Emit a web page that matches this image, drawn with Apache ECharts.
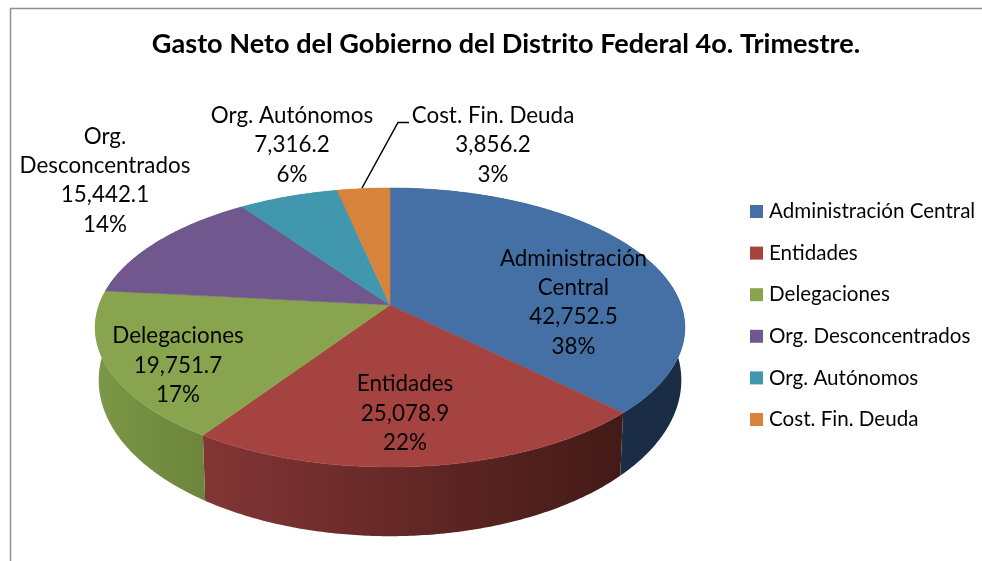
<!DOCTYPE html>
<html>
<head>
<meta charset="utf-8">
<style>html,body{margin:0;padding:0;background:#fff}#c{width:982px;height:561px}</style>
<script src="https://cdn.jsdelivr.net/npm/echarts@6/dist/echarts.min.js"></script>
</head>
<body>
<div id="c"></div>
<script>
const titleText = 'Gasto Neto del Gobierno del Distrito Federal 4o. Trimestre.';
const categories = ['Administración Central','Entidades','Delegaciones','Org. Desconcentrados','Org. Autónomos','Cost. Fin. Deuda'];
const values = [42752.5,25078.9,19751.7,15442.1,7316.2,3856.2];
const shareLabels = ['38%','22%','17%','14%','6%','3%'];
const wrappedNames = ['Administración\nCentral','Entidades','Delegaciones','Org.\nDesconcentrados','Org. Autónomos','Cost. Fin. Deuda'];

// appearance, kept apart from the data
const colors = ['#4470a6','#a54341','#89a44e','#70588e','#4197ae','#d8833c'];
const sideColors = [['#1c304a','#1a2c45'],['#833535','#421a17'],['#7c9747','#6b853a'],['#5a4672','#5a4672'],['#347a8c','#347a8c'],['#ad6930','#ad6930']];
const labelCenters = [[573.5,302.5],[405,413.5],[178,365.5],[105,180.5],[292,145],[493,145]];
const FONT = 'Lato, Carlito, "Noto Sans", sans-serif';

// projected disc: a circle seen in perspective
const cx = 390, apexY = 305, ya = 86.7, persp = -0.1613, xr = 291, bottomScale = 0.988;
const total = values.reduce((a, b) => a + b, 0);
function topPoint(t) {
  const u = Math.sin(t), v = -Math.cos(t), w = 1 + persp * v;
  return [cx + xr * u / w, (apexY + ya * v) / w];
}
function bottomPoint(t) {
  const u = Math.sin(t), v = -Math.cos(t), w = 1 + persp * v;
  const depth = 50 + 8 * Math.max(0, v);
  return [cx + bottomScale * xr * u / w, (apexY + ya * v) / w + depth / w];
}
function rim(fn, a, b) {
  const n = Math.max(2, Math.ceil((b - a) / 0.01)), pts = [];
  for (let i = 0; i <= n; i++) pts.push(fn(a + (b - a) * i / n));
  return pts;
}
function sliceRender(params, api) {
  const i = params.seriesIndex;
  let before = 0;
  for (let k = 0; k < i; k++) before += values[k];
  const a = before / total * Math.PI * 2;
  const b = a + api.value(0) / total * Math.PI * 2;
  const top = rim(topPoint, a, b);
  const bottom = rim(bottomPoint, a, b).reverse();
  const children = [
    { type: 'polygon', z2: 1, shape: { points: top.concat(bottom) },
      style: { fill: new echarts.graphic.LinearGradient(0, 0, 1, 0, [
        { offset: 0, color: sideColors[i][0] }, { offset: 1, color: sideColors[i][1] }]) } },
    { type: 'polygon', z2: 5, shape: { points: [[cx, apexY]].concat(top) },
      style: { fill: colors[i], stroke: colors[i], lineWidth: 0.5 } },
    { type: 'text', z2: 10, x: labelCenters[i][0], y: labelCenters[i][1],
      style: { text: wrappedNames[i] + '\n' + api.value(0).toLocaleString('en-US', { minimumFractionDigits: 1 }) + '\n' + shareLabels[i],
        fill: '#050505', font: '22.4px ' + FONT, align: 'center', verticalAlign: 'middle', lineHeight: 29.3 } }
  ];
  if (i === 5) {
    children.push({ type: 'polyline', z2: 10, shape: { points: [[362, 188], [398, 122.5], [409, 122.5]] },
      style: { stroke: '#000', lineWidth: 1.5, fill: null } });
  }
  return { type: 'group', children };
}
const chart = echarts.init(document.getElementById('c'), null, { renderer: 'canvas' });
chart.setOption({
  animation: false,
  backgroundColor: '#fff',
  title: { text: titleText, left: 501, top: 26, textAlign: 'center',
    textStyle: { fontFamily: FONT, fontWeight: 'bold', fontSize: 27.1, color: '#000' } },
  legend: {
    orient: 'vertical', left: 745, top: 196, itemWidth: 13, itemHeight: 13, itemGap: 20.6, icon: 'rect',
    data: categories, selectedMode: false,
    textStyle: { fontFamily: FONT, fontSize: 20.6, color: '#050505', padding: [0, 0, 0, 1] }
  },
  graphic: [{ type: 'polyline', silent: true, z: 0,
    shape: { points: [[10.5, 561], [10.5, 8.5], [982, 8.5]] },
    style: { stroke: '#8f8f8f', lineWidth: 1.5, fill: null } }],
  series: categories.map((name, i) => ({
    type: 'custom', name, coordinateSystem: 'none', silent: true,
    itemStyle: { color: colors[i] },
    renderItem: sliceRender,
    data: [[values[i]]]
  }))
});
</script>
</body>
</html>
